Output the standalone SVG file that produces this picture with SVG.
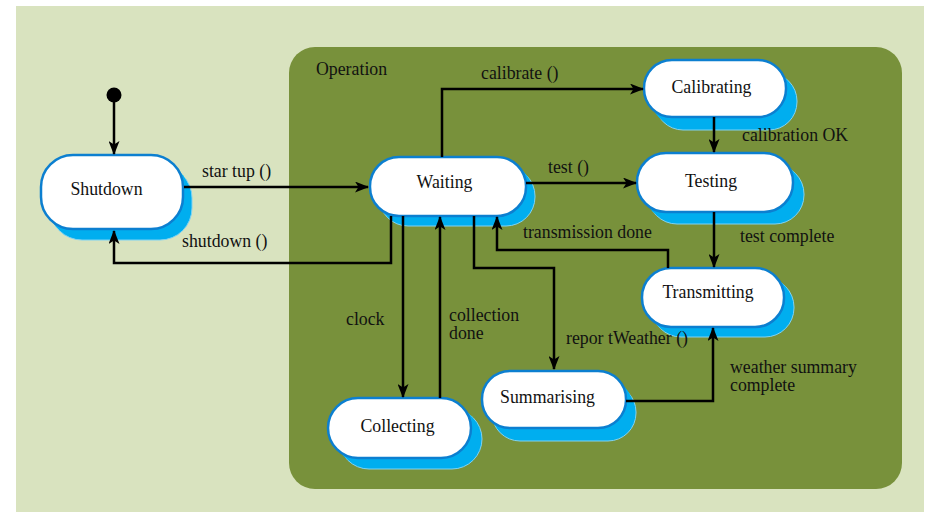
<svg xmlns="http://www.w3.org/2000/svg" width="926" height="515" viewBox="0 0 926 515">
<style>
.bg{fill:#d9e3bf}
.op{fill:#78913b}
.sh1{fill:#00aeef}
.sh2{fill:#00aeef;stroke:#7fd3f3;stroke-width:1}
.nd{fill:#ffffff;stroke:#0c7fd0;stroke-width:2.5}
text{font-family:'Liberation Serif','Times New Roman','DejaVu Serif',serif;font-size:17.8px;fill:#111}
.c{text-anchor:middle}
.ln{fill:none;stroke:#000;stroke-width:2.5}
</style>
<defs>
<marker id="ah" markerUnits="userSpaceOnUse" markerWidth="14" markerHeight="11" refX="13" refY="5.5" orient="auto">
<path d="M0,0 L14,5.5 L0,11 L3.5,5.5 z" fill="#000"/>
</marker>
</defs>
<rect class="bg" x="16" y="6" width="908" height="506"/>
<g font-family="Liberation Serif, serif">
<g id="operation">
<rect class="op" x="289" y="47" width="613" height="442" rx="26"/>
<text x="316" y="75">Operation</text>
</g>
<g id="initial"><circle cx="114" cy="95" r="7.5" fill="#000"/></g>
<g id="shutdown">
<rect class="sh2" x="50" y="166" width="142" height="74" rx="32"/>
<rect class="sh1" x="47" y="162" width="142" height="74" rx="32"/>
<rect class="nd" x="41" y="155" width="142" height="74" rx="32"/>
<text class="c" x="106.5" y="195">Shutdown</text>
</g>
<g id="waiting">
<rect class="sh2" x="379" y="167" width="156" height="59" rx="29"/>
<rect class="sh1" x="376" y="163" width="156" height="59" rx="29"/>
<rect class="nd" x="370" y="157" width="156" height="59" rx="29"/>
<text class="c" x="444.5" y="188">Waiting</text>
</g>
<g id="calibrating">
<rect class="sh2" x="655" y="73" width="142" height="57" rx="28"/>
<rect class="sh1" x="651" y="69" width="142" height="57" rx="28"/>
<rect class="nd" x="644" y="60" width="142" height="57" rx="28"/>
<text class="c" x="711.5" y="93">Calibrating</text>
</g>
<g id="testing">
<rect class="sh2" x="648" y="165" width="156" height="59" rx="29"/>
<rect class="sh1" x="644" y="161" width="156" height="59" rx="29"/>
<rect class="nd" x="637" y="153" width="156" height="59" rx="29"/>
<text class="c" x="711" y="187">Testing</text>
</g>
<g id="transmitting">
<rect class="sh2" x="652" y="278" width="142" height="59" rx="29"/>
<rect class="sh1" x="649" y="275" width="142" height="59" rx="29"/>
<rect class="nd" x="642" y="268" width="142" height="59" rx="29"/>
<text class="c" x="708" y="298">Transmitting</text>
</g>
<g id="collecting">
<rect class="sh2" x="339" y="409" width="143" height="60" rx="30"/>
<rect class="sh1" x="335" y="405" width="143" height="60" rx="30"/>
<rect class="nd" x="328" y="398" width="143" height="60" rx="30"/>
<text class="c" x="397.5" y="432">Collecting</text>
</g>
<g id="summarising">
<rect class="sh2" x="492" y="384" width="144" height="57" rx="28"/>
<rect class="sh1" x="489" y="379" width="144" height="57" rx="28"/>
<rect class="nd" x="482" y="371" width="144" height="57" rx="28"/>
<text class="c" x="547.5" y="403">Summarising</text>
</g>
<g id="connectors">
<path class="ln" d="M114,102 L114,154" marker-end="url(#ah)"/>
<path class="ln" d="M184,187 L368,187" marker-end="url(#ah)"/>
<text x="202" y="177">star tup ()</text>
<path class="ln" d="M391,216 L391,263 L114,263 L114,231" marker-end="url(#ah)"/>
<text x="182" y="247">shutdown ()</text>
<path class="ln" d="M442,157 L442,89 L643,89" marker-end="url(#ah)"/>
<text x="481" y="79">calibrate ()</text>
<path class="ln" d="M526,183 L636,183" marker-end="url(#ah)"/>
<text x="548" y="173">test ()</text>
<path class="ln" d="M714,117 L714,152" marker-end="url(#ah)"/>
<text x="742" y="141">calibration OK</text>
<path class="ln" d="M714,212 L714,267" marker-end="url(#ah)"/>
<text x="740" y="242">test complete</text>
<path class="ln" d="M668,268 L668,250 L497,250 L497,217" marker-end="url(#ah)"/>
<text x="523" y="238">transmission done</text>
<path class="ln" d="M474,216 L474,268 L554,268 L554,369" marker-end="url(#ah)"/>
<text x="566" y="344">repor tWeather ()</text>
<path class="ln" d="M403,216 L403,397" marker-end="url(#ah)"/>
<text x="346" y="325">clock</text>
<path class="ln" d="M440,398 L440,217" marker-end="url(#ah)"/>
<text x="449" y="321">collection</text>
<text x="449" y="339">done</text>
<path class="ln" d="M626,401 L713,401 L713,328" marker-end="url(#ah)"/>
<text x="730" y="373">weather summary</text>
<text x="730" y="391">complete</text>
</g>
</g>
</svg>
